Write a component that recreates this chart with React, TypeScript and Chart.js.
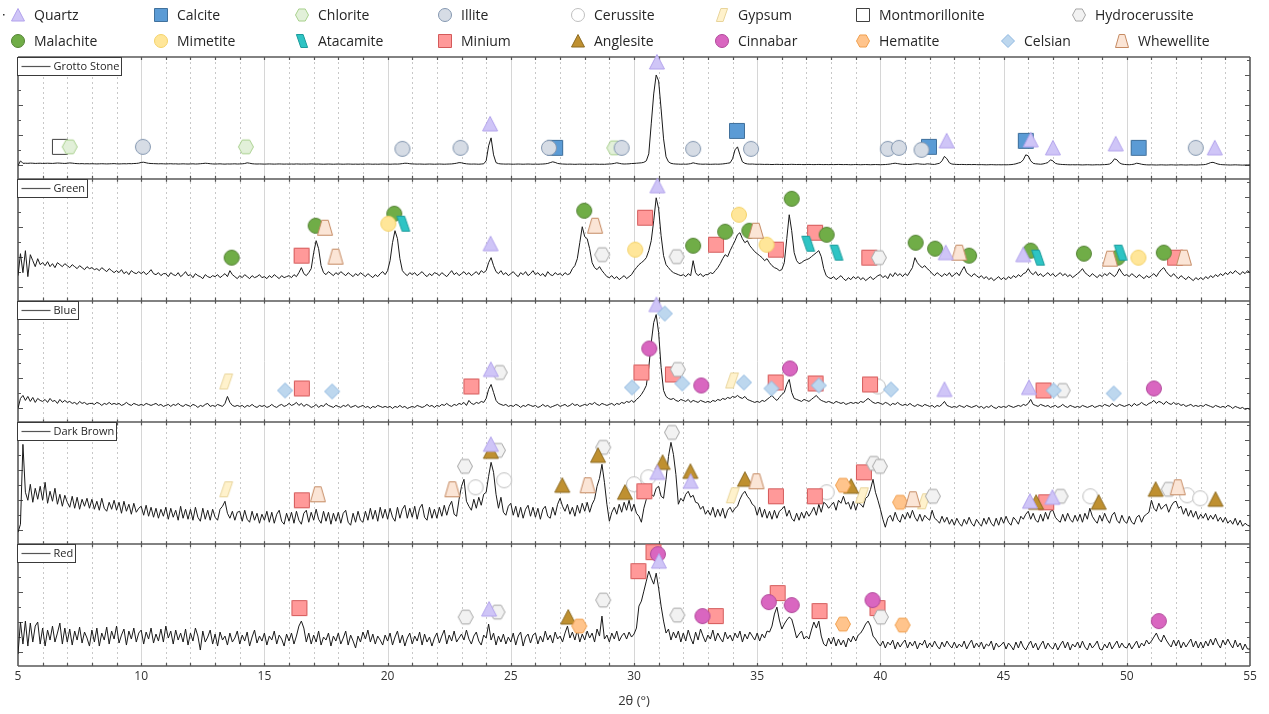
import React, { useEffect, useRef } from "react";
import { Chart, registerables } from "chart.js";

Chart.register(...registerables);

const FONT = '"Open Sans", "Noto Sans", "DejaVu Sans", sans-serif';
const PANEL = 122;

const panelNames = ["Grotto Stone", "Green", "Blue", "Dark Brown", "Red"];
const xTickLabels = [5, 10, 15, 20, 25, 30, 35, 40, 45, 50, 55];
const twoThetaStart = 5;
const twoThetaStep = 0.1;

// intensities (arbitrary units, 0..122 per panel), 2θ = 5.0 .. 55.0 step 0.1
const grottoStone = [
  13, 18, 15.5, 15.6, 15.5, 15.7, 15.6, 15.4, 15.5, 15.6,
  15.4, 15.5, 15.6, 15.5, 15.4, 15.6, 15.8, 15.7, 15.5, 15.4,
  15.6, 15.9, 15.7, 15.4, 15.2, 15.1, 15.2, 15.0, 15.1, 15.0,
  15.1, 15.0, 14.9, 15.0, 15.1, 15.0, 14.9, 15.0, 15.1, 15.2,
  15.0, 14.9, 15.0, 15.1, 15.0, 15.2, 15.1, 15.3, 15.4, 15.7,
  16.4, 16.6, 16.0, 15.5, 15.3, 15.2, 15.1, 15.0, 15.1, 15.0,
  14.9, 15.0, 15.1, 14.9, 15.0, 14.8, 14.9, 15.0, 14.9, 14.8,
  14.9, 15.0, 14.8, 14.9, 15.1, 15.3, 15.6, 15.4, 15.1, 14.9,
  14.8, 14.9, 15.0, 14.8, 14.7, 14.9, 14.8, 14.9, 15.0, 14.8,
  14.9, 15.0, 15.3, 16.0, 15.6, 15.1, 14.9, 14.8, 14.9, 14.8,
  14.7, 14.8, 14.9, 14.8, 14.7, 14.8, 14.9, 14.8, 14.7, 14.8,
  14.7, 14.8, 14.7, 14.9, 14.8, 14.7, 14.8, 14.7, 14.8, 14.9,
  14.8, 14.7, 14.8, 14.7, 14.6, 14.7, 14.8, 14.7, 14.6, 14.7,
  14.8, 14.7, 14.6, 14.7, 14.8, 14.7, 14.6, 14.7, 14.6, 14.7,
  14.6, 14.7, 14.8, 14.7, 14.6, 14.7, 14.6, 14.7, 14.8, 14.7,
  14.7, 14.6, 14.7, 14.8, 14.7, 14.9, 15.2, 15.6, 15.5, 15.1,
  14.9, 14.8, 14.7, 14.8, 14.7, 14.6, 14.7, 14.8, 14.7, 14.6,
  14.7, 14.8, 14.7, 14.6, 14.7, 14.8, 14.9, 15.2, 15.6, 16.2,
  16.0, 15.4, 15.0, 14.8, 14.7, 14.8, 14.7, 14.6, 14.8, 15.0,
  18, 33, 41, 24, 16.2, 15.2, 14.9, 14.8, 14.7, 14.8,
  14.7, 14.6, 14.7, 14.8, 14.7, 14.6, 14.7, 14.8, 14.7, 14.6,
  14.7, 14.6, 14.7, 14.8, 15.0, 15.4, 16.2, 17.0, 16.4, 15.4,
  15.0, 14.8, 14.7, 14.6, 14.7, 14.6, 14.5, 14.6, 14.7, 14.6,
  14.5, 14.6, 14.5, 14.6, 14.7, 14.6, 14.5, 14.6, 14.5, 14.7,
  14.8, 15.0, 15.4, 16.0, 15.5, 15.0, 14.8, 14.9, 15.0, 15.3,
  15.4, 15.6, 15.8, 16.0, 16.5, 18, 25, 55, 85, 104,
  98, 70, 40, 22, 17, 15.5, 15.0, 14.8, 14.7, 14.6,
  14.7, 14.6, 14.8, 15.2, 16.0, 15.4, 14.9, 14.7, 14.6, 14.7,
  14.6, 14.5, 14.6, 14.7, 14.6, 14.7, 14.9, 15.2, 15.6, 16,
  20, 29, 32, 24, 17, 15.5, 14.9, 14.7, 14.8, 14.6,
  14.5, 14.6, 14.5, 14.4, 14.5, 14.4, 14.3, 14.4, 14.5, 14.4,
  14.3, 14.4, 14.3, 14.4, 14.5, 14.4, 14.3, 14.4, 14.3, 14.2,
  14.3, 14.4, 14.3, 14.2, 14.3, 14.4, 14.3, 14.2, 14.3, 14.2,
  14.3, 14.2, 14.3, 14.4, 14.3, 14.2, 14.3, 14.2, 14.1, 14.2,
  14.3, 14.2, 14.1, 14.2, 14.3, 14.2, 14.1, 14.2, 14.3, 14.2,
  14.1, 14.2, 14.3, 14.5, 14.8, 15.3, 15.6, 15.2, 14.8, 14.5,
  14.4, 14.3, 14.4, 14.6, 14.9, 15.1, 14.8, 14.6, 14.5, 15.0,
  14.8, 14.5, 14.4, 15.0, 15.5, 18, 22.5, 20, 16, 14.8,
  14.5, 14.4, 14.3, 14.4, 14.3, 14.2, 14.3, 14.2, 14.3, 14.2,
  14.1, 14.2, 14.1, 14.0, 14.1, 14.2, 14.1, 14.0, 14.1, 14.0,
  14.1, 14.0, 14.1, 14.2, 14.5, 15, 15.8, 16.5, 19, 24,
  23, 18, 15.5, 15.0, 14.8, 14.6, 14.9, 15.5, 16.3, 19,
  18, 15.5, 14.8, 14.5, 14.3, 14.2, 14.1, 14.0, 14.1, 14.0,
  14.1, 14.0, 13.9, 14.0, 14.1, 14.0, 13.9, 14.0, 14.1, 14.0,
  14.1, 14.2, 14.4, 14.8, 16.5, 20, 19, 16, 14.8, 14.4,
  14.2, 14.1, 14.3, 14.7, 15.6, 15.2, 14.6, 14.2, 14.0, 13.9,
  14.0, 13.9, 13.8, 13.9, 14.0, 13.9, 13.8, 13.9, 14.0, 13.9,
  13.8, 13.9, 14.0, 13.9, 13.8, 13.9, 14.0, 13.9, 13.8, 13.9,
  14.0, 14.1, 14.4, 15.2, 16.2, 16.5, 15.6, 14.8, 14.3, 14.1,
  14.0, 13.9, 13.8, 13.9, 14.0, 13.9, 13.8, 13.7, 13.8, 13.9,
  13.8,
];

const green = [
  25, 47, 28, 50, 24, 46, 40, 34, 42, 36,
  38, 35, 39, 34, 37, 33, 38, 36, 34, 37,
  35, 33, 36, 34, 32, 35, 33, 31, 34, 32,
  33, 31, 32, 30, 33, 31, 29, 32, 30, 28,
  30, 28, 31, 27, 29, 26, 30, 28, 27, 29,
  27, 29, 26, 28, 31, 27, 26, 28, 25, 27,
  27, 24, 28, 26, 25, 28, 24, 26, 29, 25,
  26, 23, 27, 25, 24, 22, 26, 24, 23, 25,
  24, 26, 23, 25, 27, 24, 30, 26, 24, 22,
  25, 23, 26, 24, 22, 25, 23, 24, 26, 23,
  24, 22, 25, 23, 26, 24, 22, 25, 23, 24,
  25, 23, 26, 24, 28, 33, 27, 25, 28, 32,
  48, 60, 52, 35, 28, 26, 29, 27, 25, 28,
  26, 29, 27, 25, 28, 26, 24, 27, 25, 28,
  26, 24, 27, 25, 23, 26, 24, 27, 29, 26,
  30, 40, 58, 70, 62, 42, 30, 27, 25, 28,
  26, 28, 25, 27, 29, 26, 24, 27, 25, 28,
  27, 25, 28, 26, 24, 27, 30, 26, 28, 25,
  27, 29, 26, 28, 25, 27, 29, 26, 30, 28,
  30, 38, 43, 35, 29, 27, 30, 26, 28, 25,
  27, 29, 26, 24, 28, 26, 29, 25, 27, 30,
  26, 28, 25, 27, 24, 29, 26, 25, 28, 26,
  27, 25, 28, 26, 27, 32, 35, 42, 58, 74,
  64, 62, 52, 38, 33, 31, 34, 30, 27, 24,
  23, 25, 22, 24, 21, 23, 25, 22, 24, 26,
  30, 33, 36, 38, 40, 43, 50, 60, 80, 103,
  92, 65, 45, 36, 33, 30, 28, 27, 26, 25,
  26, 24, 27, 25, 40, 28, 25, 27, 24, 26,
  26, 28, 27, 30, 33, 37, 42, 46, 44, 50,
  55, 60, 66, 68, 62, 58, 60, 55, 52, 49,
  47, 45, 43, 40, 42, 38, 35, 33, 32, 30,
  31, 38, 62, 86, 70, 48, 40, 37, 38, 40,
  41, 42, 44, 46, 48, 50, 44, 32, 25, 23,
  22, 24, 21, 23, 25, 22, 20, 23, 21, 24,
  22, 24, 21, 23, 20, 22, 24, 21, 23, 25,
  26, 23, 25, 22, 27, 24, 28, 25, 27, 24,
  27, 25, 29, 33, 43, 38, 35, 33, 35, 32,
  30, 27, 25, 28, 26, 24, 27, 25, 28, 24,
  26, 28, 25, 30, 34, 28, 26, 24, 27, 25,
  23, 25, 22, 24, 21, 23, 20, 22, 24, 21,
  23, 21, 24, 22, 25, 23, 26, 24, 27, 28,
  32, 28, 26, 29, 25, 27, 24, 26, 28, 25,
  27, 24, 26, 28, 25, 27, 24, 26, 23, 25,
  27, 29, 32, 28, 26, 24, 27, 25, 23, 26,
  24, 27, 25, 28, 26, 24, 27, 32, 28, 25,
  26, 24, 27, 25, 23, 26, 24, 22, 25, 23,
  25, 27, 24, 28, 31, 33, 29, 26, 24, 27,
  24, 22, 25, 23, 21, 24, 22, 20, 23, 21,
  23, 21, 24, 22, 25, 23, 26, 24, 27, 25,
  28, 26, 29, 27, 30, 28, 26, 29, 27, 30,
  28,
];

const blue = [
  14, 24, 27, 22, 26, 21, 25, 20, 24, 22,
  21, 23, 20, 24, 21, 22, 19, 23, 20, 22,
  20, 21, 19, 20, 18, 21, 19, 20, 18, 19,
  19, 18, 20, 19, 17, 19, 18, 20, 18, 19,
  18, 19, 17, 18, 20, 18, 17, 19, 18, 17,
  18, 17, 19, 18, 17, 18, 19, 17, 18, 16,
  17, 18, 16, 18, 17, 19, 17, 16, 18, 17,
  16, 18, 17, 15, 17, 16, 18, 19, 16, 17,
  16, 18, 17, 16, 19, 26, 20, 17, 16, 17,
  16, 17, 15, 17, 16, 18, 16, 15, 17, 16,
  17, 15, 16, 18, 16, 15, 17, 18, 16, 17,
  19, 17, 18, 20, 17, 19, 16, 18, 17, 15,
  16, 18, 15, 17, 16, 19, 17, 16, 15, 17,
  16, 15, 17, 16, 18, 15, 16, 17, 15, 16,
  17, 15, 16, 14, 16, 15, 17, 16, 15, 16,
  15, 16, 14, 16, 15, 17, 15, 16, 14, 15,
  16, 15, 17, 16, 15, 16, 18, 16, 17, 15,
  17, 16, 18, 17, 19, 17, 16, 18, 17, 19,
  18, 20, 17, 22, 19, 18, 20, 19, 21, 20,
  24, 33, 38, 30, 22, 19, 18, 17, 18, 16,
  17, 16, 18, 17, 15, 17, 16, 18, 17, 16,
  17, 15, 16, 18, 16, 17, 15, 16, 17, 18,
  16, 17, 18, 16, 17, 19, 17, 18, 16, 17,
  18, 17, 19, 18, 20, 18, 17, 19, 18, 17,
  18, 19, 17, 19, 18, 20, 19, 21, 20, 22,
  20, 23, 25, 28, 32, 37, 55, 80, 100, 108,
  90, 55, 32, 26, 24, 23, 24, 22, 21, 23,
  22, 21, 23, 20, 22, 21, 20, 22, 21, 20,
  21, 20, 22, 21, 23, 22, 24, 23, 25, 24,
  26, 25, 27, 25, 24, 26, 23, 22, 21, 20,
  21, 20, 22, 21, 23, 25, 27, 24, 22, 25,
  28, 30, 38, 43, 30, 24, 23, 22, 21, 23,
  22, 21, 23, 25, 27, 24, 22, 21, 20, 21,
  20, 19, 21, 20, 19, 20, 18, 19, 20, 19,
  20, 19, 21, 20, 22, 24, 22, 20, 19, 20,
  19, 18, 20, 19, 17, 19, 18, 20, 18, 17,
  18, 17, 19, 17, 16, 18, 17, 16, 18, 17,
  16, 17, 15, 17, 16, 18, 21, 17, 16, 15,
  16, 15, 17, 16, 15, 17, 16, 15, 16, 17,
  15, 16, 14, 16, 15, 17, 15, 14, 16, 15,
  16, 15, 17, 16, 15, 16, 17, 16, 18, 17,
  19, 23, 18, 17, 16, 18, 17, 16, 17, 15,
  16, 17, 15, 16, 18, 16, 15, 17, 16, 15,
  16, 15, 17, 16, 15, 16, 17, 15, 16, 17,
  16, 18, 17, 16, 19, 17, 16, 18, 17, 16,
  17, 18, 16, 19, 17, 18, 20, 18, 17, 19,
  20, 22, 19, 21, 20, 18, 21, 19, 18, 20,
  18, 19, 17, 18, 16, 17, 18, 16, 17, 16,
  17, 16, 18, 17, 16, 15, 17, 16, 15, 16,
  15, 17, 16, 14, 16, 15, 14, 15, 13, 14,
  13,
];

const darkBrown = [
  12, 20, 100, 52, 44, 60, 42, 56, 45, 58,
  44, 62, 41, 53, 43, 56, 40, 50, 38, 49,
  42, 37, 48, 36, 47, 35, 45, 38, 46, 36,
  45, 35, 43, 34, 46, 36, 33, 42, 35, 44,
  34, 42, 31, 43, 33, 40, 30, 41, 32, 36,
  38, 29, 39, 28, 37, 27, 36, 26, 35, 28,
  37, 25, 36, 27, 34, 24, 38, 26, 35, 25,
  35, 24, 37, 27, 23, 36, 25, 34, 24, 35,
  27, 24, 35, 38, 43, 31, 26, 33, 24, 32,
  33, 23, 34, 25, 22, 33, 24, 31, 21, 30,
  24, 33, 22, 32, 21, 30, 34, 23, 20, 31,
  23, 32, 21, 33, 24, 20, 31, 34, 22, 32,
  24, 35, 25, 21, 33, 23, 32, 20, 31, 23,
  32, 21, 31, 34, 22, 19, 31, 22, 33, 24,
  22, 33, 24, 36, 25, 34, 23, 37, 26, 35,
  25, 36, 27, 23, 37, 26, 35, 39, 26, 36,
  27, 38, 25, 36, 40, 27, 24, 37, 26, 35,
  26, 37, 28, 39, 29, 38, 43, 30, 28, 45,
  58, 65, 43, 38, 34, 45, 36, 47, 39, 50,
  52, 68, 82, 72, 50, 36, 47, 32, 29, 38,
  41, 29, 38, 27, 37, 26, 35, 39, 28, 37,
  27, 36, 25, 35, 38, 28, 26, 37, 29, 40,
  46, 38, 33, 40, 30, 37, 28, 39, 31, 41,
  33, 42, 32, 40, 45, 58, 66, 80, 62, 40,
  23, 32, 37, 30, 40, 32, 42, 34, 44, 33,
  40, 31, 28, 22, 36, 45, 55, 50, 48, 56,
  58, 48, 46, 65, 88, 102, 90, 70, 40, 46,
  43, 50, 53, 47, 49, 42, 41, 35, 38, 30,
  34, 29, 37, 27, 35, 28, 36, 26, 34, 37,
  32, 36, 38, 45, 50, 53, 48, 45, 40, 38,
  29, 37, 27, 35, 26, 33, 25, 34, 26, 33,
  35, 38, 28, 34, 26, 23, 31, 24, 32, 26,
  33, 28, 32, 37, 29, 40, 32, 42, 40, 36,
  39, 42, 34, 44, 41, 48, 40, 42, 35, 43,
  34, 42, 40, 37, 46, 48, 55, 65, 52, 44,
  35, 25, 17, 26, 29, 23, 32, 25, 22, 30,
  25, 32, 26, 34, 27, 23, 30, 23, 29, 26,
  24, 34, 26, 24, 21, 28, 22, 27, 20, 25,
  19, 26, 21, 18, 25, 20, 27, 21, 18, 25,
  21, 18, 26, 20, 27, 21, 18, 26, 19, 27,
  21, 28, 22, 19, 27, 24, 20, 28, 25, 30,
  33, 25, 31, 24, 22, 30, 23, 32, 25, 33,
  34, 27, 24, 22, 30, 23, 31, 25, 22, 29,
  23, 30, 22, 31, 25, 36, 28, 24, 21, 29,
  23, 31, 25, 21, 29, 32, 24, 21, 29, 23,
  21, 28, 22, 20, 27, 29, 22, 28, 30, 32,
  44, 36, 33, 41, 35, 38, 40, 32, 38, 42,
  43, 36, 38, 30, 36, 28, 34, 27, 33, 25,
  30, 26, 31, 24, 29, 25, 30, 23, 27, 22,
  27, 21, 24, 20, 26, 19, 24, 18, 21, 19,
  18,
];

const red = [
  12, 44, 22, 45, 20, 43, 24, 40, 44, 22,
  38, 20, 36, 26, 40, 24, 33, 43, 22, 38,
  24, 37, 21, 35, 26, 39, 23, 34, 28, 20,
  36, 24, 38, 20, 33, 26, 39, 22, 35, 27,
  40, 23, 31, 37, 21, 35, 27, 38, 24, 33,
  36, 22, 34, 27, 38, 23, 32, 25, 37, 24,
  40, 28, 35, 22, 36, 26, 33, 24, 37, 21,
  33, 25, 38, 30, 16, 35, 24, 29, 36, 22,
  32, 20, 34, 26, 30, 21, 33, 24, 28, 35,
  22, 31, 25, 34, 20, 29, 36, 23, 30, 25,
  33, 21, 30, 26, 35, 22, 31, 27, 20, 32,
  25, 33, 22, 30, 40, 45, 38, 24, 33, 22,
  31, 24, 35, 21, 29, 26, 33, 20, 30, 25,
  33, 22, 28, 35, 21, 31, 25, 18, 30, 24,
  34, 27, 36, 24, 32, 22, 30, 26, 21, 31,
  25, 33, 21, 29, 35, 23, 31, 20, 28, 33,
  22, 30, 25, 34, 21, 32, 24, 29, 20, 28,
  33, 23, 30, 36, 22, 31, 25, 35, 24, 28,
  32, 26, 36, 27, 22, 30, 34, 25, 21, 31,
  28, 42, 26, 33, 21, 30, 24, 32, 22, 29,
  24, 33, 21, 30, 34, 20, 29, 32, 23, 31,
  33, 22, 30, 24, 35, 26, 31, 23, 34, 27,
  30, 24, 33, 40, 28, 34, 26, 36, 24, 32,
  26, 35, 28, 33, 24, 37, 30, 50, 27, 31,
  24, 33, 27, 35, 25, 30, 33, 27, 34, 29,
  32, 38, 60, 65, 75, 85, 95, 88, 82, 93,
  78, 60, 45, 33, 37, 26, 34, 28, 35, 24,
  33, 25, 36, 28, 22, 34, 26, 37, 30, 24,
  31, 27, 36, 25, 33, 28, 24, 34, 27, 31,
  25, 33, 28, 35, 24, 32, 27, 34, 30, 26,
  33, 25, 32, 28, 35, 34, 40, 52, 59, 46,
  37, 42, 46, 49, 47, 38, 28, 32, 35, 27,
  30, 27, 36, 44, 38, 45, 30, 22, 20, 28,
  22, 29, 20, 27, 21, 26, 19, 28, 24, 30,
  25, 31, 33, 37, 42, 45, 40, 30, 27, 23,
  20, 25, 18, 24, 21, 26, 17, 24, 19, 23,
  26, 18, 24, 20, 25, 17, 23, 21, 26, 18,
  23, 19, 25, 20, 17, 24, 19, 25, 21, 18,
  24, 18, 22, 19, 25, 17, 22, 26, 18, 23,
  19, 24, 17, 22, 20, 25, 16, 23, 19, 21,
  24, 17, 23, 20, 16, 24, 18, 25, 19, 16,
  21, 25, 18, 23, 16, 21, 25, 17, 23, 19,
  17, 23, 16, 21, 25, 18, 24, 16, 22, 19,
  24, 18, 25, 19, 16, 23, 18, 21, 25, 17,
  16, 22, 18, 24, 17, 21, 25, 18, 23, 19,
  18, 23, 17, 21, 25, 18, 23, 20, 26, 22,
  25, 29, 33, 27, 24, 31, 26, 22, 19, 26,
  20, 26, 18, 24, 19, 23, 27, 19, 25, 18,
  24, 18, 25, 20, 27, 21, 28, 22, 18, 26,
  21, 27, 22, 18, 26, 19, 23, 16, 22, 17,
  17,
];

// phase identification markers: [mineral, 2θ, intensity level]
type Mark = [string, number, number];
const grottoMarkers: Mark[] = [
  ["Montmorillonite", 6.7, 32], ["Chlorite", 7.1, 32], ["Illite", 10.07, 32], ["Chlorite", 14.25, 32],
  ["Illite", 20.6, 30], ["Illite", 22.96, 31], ["Quartz", 24.16, 55], ["Calcite", 26.8, 31],
  ["Illite", 26.55, 31], ["Chlorite", 29.2, 31], ["Illite", 29.5, 31], ["Quartz", 30.93, 117],
  ["Illite", 32.4, 30], ["Calcite", 34.18, 48], ["Illite", 34.75, 30], ["Illite", 40.3, 30],
  ["Illite", 40.75, 31], ["Calcite", 41.97, 32], ["Illite", 41.67, 29], ["Quartz", 42.69, 38],
  ["Calcite", 45.9, 38], ["Quartz", 46.1, 39], ["Quartz", 47.0, 31], ["Quartz", 49.55, 35],
  ["Calcite", 50.48, 31], ["Illite", 52.8, 31], ["Quartz", 53.57, 31],
];
const greenMarkers: Mark[] = [
  ["Malachite", 13.67, 43], ["Minium", 16.51, 45], ["Malachite", 17.08, 75], ["Whewellite", 17.46, 73],
  ["Whewellite", 17.89, 44], ["Malachite", 20.27, 87], ["Mimetite", 20.03, 77], ["Atacamite", 20.64, 77],
  ["Quartz", 24.18, 57], ["Malachite", 27.98, 90], ["Whewellite", 28.42, 75], ["Hydrocerussite", 28.71, 46],
  ["Mimetite", 30.05, 51], ["Minium", 30.45, 83], ["Quartz", 30.95, 115], ["Hydrocerussite", 31.73, 44],
  ["Malachite", 32.4, 55], ["Minium", 33.33, 56], ["Malachite", 33.7, 69], ["Mimetite", 34.26, 86],
  ["Malachite", 34.68, 70], ["Whewellite", 34.95, 70], ["Mimetite", 35.38, 56], ["Minium", 35.76, 51],
  ["Malachite", 36.4, 102], ["Atacamite", 37.07, 57], ["Minium", 37.35, 68], ["Malachite", 37.82, 66],
  ["Atacamite", 38.22, 48], ["Minium", 39.55, 43], ["Hydrocerussite", 39.94, 43], ["Malachite", 41.43, 58],
  ["Malachite", 42.22, 52], ["Quartz", 42.65, 48], ["Whewellite", 43.2, 48], ["Malachite", 43.6, 45],
  ["Quartz", 45.8, 46], ["Malachite", 46.1, 50], ["Atacamite", 46.4, 43], ["Malachite", 48.26, 47],
  ["Whewellite", 49.32, 42], ["Malachite", 49.63, 43], ["Atacamite", 49.75, 48], ["Mimetite", 50.47, 43],
  ["Malachite", 51.5, 48], ["Minium", 51.96, 43], ["Whewellite", 52.32, 43],
];
const blueMarkers: Mark[] = [
  ["Gypsum", 13.45, 41], ["Celsian", 15.84, 32], ["Minium", 16.52, 34], ["Celsian", 17.75, 31],
  ["Minium", 23.4, 36], ["Quartz", 24.19, 53], ["Hydrocerussite", 24.55, 50], ["Celsian", 29.92, 35],
  ["Minium", 30.3, 50], ["Cinnabar", 30.62, 74], ["Quartz", 30.91, 118], ["Celsian", 31.25, 109],
  ["Minium", 31.58, 48], ["Hydrocerussite", 31.78, 53], ["Celsian", 31.96, 39], ["Cinnabar", 32.73, 37],
  ["Gypsum", 33.98, 42], ["Celsian", 34.46, 40], ["Celsian", 35.58, 34], ["Minium", 35.75, 40],
  ["Cinnabar", 36.33, 54], ["Minium", 37.37, 39], ["Celsian", 37.5, 37], ["Cerussite", 39.9, 36],
  ["Minium", 39.58, 38], ["Celsian", 40.43, 33], ["Quartz", 42.6, 33], ["Quartz", 46.03, 35],
  ["Minium", 46.62, 32], ["Celsian", 47.03, 32], ["Hydrocerussite", 47.4, 32], ["Celsian", 49.47, 29],
  ["Cinnabar", 51.1, 34],
];
const darkBrownMarkers: Mark[] = [
  ["Gypsum", 13.45, 55], ["Minium", 16.52, 44], ["Whewellite", 17.17, 50], ["Whewellite", 22.63, 55],
  ["Hydrocerussite", 23.14, 78], ["Cerussite", 23.57, 57], ["Anglesite", 24.19, 93], ["Quartz", 24.19, 100],
  ["Hydrocerussite", 24.48, 94], ["Cerussite", 24.73, 64], ["Anglesite", 27.09, 59], ["Whewellite", 28.12, 59],
  ["Anglesite", 28.54, 89], ["Hydrocerussite", 28.75, 97], ["Anglesite", 29.63, 52], ["Cerussite", 30.0, 60],
  ["Minium", 30.42, 53], ["Cerussite", 30.58, 67], ["Quartz", 30.95, 72], ["Anglesite", 31.16, 82],
  ["Hydrocerussite", 31.54, 112], ["Quartz", 32.3, 63], ["Anglesite", 32.29, 73], ["Gypsum", 34.01, 49],
  ["Anglesite", 34.5, 65], ["Whewellite", 34.97, 63], ["Minium", 35.76, 48], ["Minium", 37.34, 48],
  ["Cerussite", 37.82, 52], ["Hematite", 38.48, 59], ["Anglesite", 38.81, 58], ["Gypsum", 39.25, 49],
  ["Minium", 39.33, 72], ["Hydrocerussite", 39.73, 81], ["Hydrocerussite", 39.98, 78], ["Hematite", 40.8, 42],
  ["Whewellite", 41.32, 45], ["Gypsum", 41.77, 43], ["Hydrocerussite", 42.13, 48], ["Quartz", 46.07, 43],
  ["Anglesite", 46.32, 42], ["Minium", 46.73, 42], ["Quartz", 46.98, 47], ["Hydrocerussite", 47.31, 48],
  ["Cerussite", 48.52, 48], ["Anglesite", 48.86, 42], ["Anglesite", 51.17, 55], ["Hydrocerussite", 51.7, 55],
  ["Whewellite", 52.07, 57], ["Cerussite", 52.45, 49], ["Cerussite", 52.98, 46], ["Anglesite", 53.6, 45],
];
const redMarkers: Mark[] = [
  ["Minium", 16.42, 58], ["Hydrocerussite", 23.17, 49], ["Quartz", 24.12, 57], ["Hydrocerussite", 24.46, 54],
  ["Anglesite", 27.33, 49], ["Hematite", 27.78, 40], ["Hydrocerussite", 28.75, 66], ["Minium", 30.18, 95],
  ["Minium", 30.79, 114], ["Cinnabar", 30.97, 112], ["Quartz", 31.01, 105], ["Hydrocerussite", 31.76, 51],
  ["Cinnabar", 32.78, 50], ["Minium", 33.32, 50], ["Cinnabar", 35.47, 64], ["Minium", 35.83, 73],
  ["Cinnabar", 36.4, 61], ["Minium", 37.53, 55], ["Hematite", 38.48, 42], ["Cinnabar", 39.68, 66],
  ["Minium", 39.88, 58], ["Hydrocerussite", 40.02, 49], ["Hematite", 40.9, 41], ["Cinnabar", 51.3, 45],
];

const spectra = [grottoStone, green, blue, darkBrown, red];
const markerSets = [grottoMarkers, greenMarkers, blueMarkers, darkBrownMarkers, redMarkers];

// styling
type Style = { shape: string; fill: string; stroke: string };
const mineralStyles: Record<string, Style> = {
  Quartz: { shape: "triangle", fill: "#CFC5F7", stroke: "#B2A2EC" },
  Calcite: { shape: "square", fill: "#5B9BD5", stroke: "#41719C" },
  Chlorite: { shape: "hexagon", fill: "#E2F0D9", stroke: "#A9D18E" },
  Illite: { shape: "circle", fill: "#D6DCE5", stroke: "#8497B0" },
  Cerussite: { shape: "circle", fill: "#FFFFFF", stroke: "#BFBFBF" },
  Gypsum: { shape: "paraRight", fill: "#FFF2CC", stroke: "#E8D49A" },
  Montmorillonite: { shape: "square", fill: "#FFFFFF", stroke: "#404040" },
  Hydrocerussite: { shape: "hexagon", fill: "#F2F2F2", stroke: "#A6A6A6" },
  Malachite: { shape: "circle", fill: "#70AD47", stroke: "#548235" },
  Mimetite: { shape: "circle", fill: "#FFE699", stroke: "#F4D26A" },
  Atacamite: { shape: "paraLeft", fill: "#2EC4C4", stroke: "#1C9C9C" },
  Minium: { shape: "square", fill: "#FF9999", stroke: "#D45A5A" },
  Anglesite: { shape: "triangle", fill: "#BF9030", stroke: "#8C6A20" },
  Cinnabar: { shape: "circle", fill: "#D966C0", stroke: "#B0489A" },
  Hematite: { shape: "hexagon", fill: "#FFC48C", stroke: "#F0A050" },
  Celsian: { shape: "diamond", fill: "#BDD7EE", stroke: "#8FB8E0" },
  Whewellite: { shape: "trapezoid", fill: "#FBE5D6", stroke: "#C58A62" },
};
const drawOrder = [
  "Montmorillonite", "Calcite", "Chlorite", "Illite", "Cerussite", "Gypsum", "Minium", "Hydrocerussite",
  "Malachite", "Mimetite", "Atacamite", "Anglesite", "Cinnabar", "Hematite", "Whewellite", "Quartz", "Celsian",
];
const legendLayout: [string, number, number][] = [
  ["Quartz", 18, 15], ["Calcite", 161, 15], ["Chlorite", 302, 15], ["Illite", 445, 15],
  ["Cerussite", 578, 15], ["Gypsum", 722, 15], ["Montmorillonite", 863, 15], ["Hydrocerussite", 1079, 15],
  ["Malachite", 18, 41], ["Mimetite", 161, 41], ["Atacamite", 302, 41], ["Minium", 445, 41],
  ["Anglesite", 578, 41], ["Cinnabar", 722, 41], ["Hematite", 863, 41], ["Celsian", 1008, 41],
  ["Whewellite", 1122, 41],
];

function makeIcon(st: Style, s: number): HTMLCanvasElement {
  const pad = 2;
  const c = document.createElement("canvas");
  c.width = s + pad * 2;
  c.height = s + pad * 2;
  const ctx = c.getContext("2d")!;
  ctx.translate(pad, pad);
  ctx.beginPath();
  switch (st.shape) {
    case "circle":
      ctx.arc(s / 2, s / 2, s / 2 - 0.5, 0, Math.PI * 2);
      break;
    case "square":
      ctx.rect(0.5, 0.5, s - 1, s - 1);
      break;
    case "triangle":
      ctx.moveTo(s / 2, 0.5);
      ctx.lineTo(s - 0.5, s - 1);
      ctx.lineTo(0.5, s - 1);
      ctx.closePath();
      break;
    case "hexagon": {
      const h = s * 0.86;
      const y0 = (s - h) / 2;
      ctx.moveTo(0.5, s / 2);
      ctx.lineTo(s * 0.27, y0);
      ctx.lineTo(s * 0.73, y0);
      ctx.lineTo(s - 0.5, s / 2);
      ctx.lineTo(s * 0.73, y0 + h);
      ctx.lineTo(s * 0.27, y0 + h);
      ctx.closePath();
      break;
    }
    case "paraRight":
      ctx.moveTo(s * 0.42, 0.5);
      ctx.lineTo(s * 0.9, 0.5);
      ctx.lineTo(s * 0.58, s - 0.5);
      ctx.lineTo(s * 0.1, s - 0.5);
      ctx.closePath();
      break;
    case "paraLeft":
      ctx.moveTo(s * 0.1, 0.5);
      ctx.lineTo(s * 0.58, 0.5);
      ctx.lineTo(s * 0.9, s - 0.5);
      ctx.lineTo(s * 0.42, s - 0.5);
      ctx.closePath();
      break;
    case "diamond":
      ctx.moveTo(s / 2, 0.5);
      ctx.lineTo(s - 0.5, s / 2);
      ctx.lineTo(s / 2, s - 0.5);
      ctx.lineTo(0.5, s / 2);
      ctx.closePath();
      break;
    case "trapezoid":
      ctx.moveTo(s * 0.3, 0.5);
      ctx.lineTo(s * 0.7, 0.5);
      ctx.lineTo(s - 0.5, s - 0.5);
      ctx.lineTo(0.5, s - 0.5);
      ctx.closePath();
      break;
  }
  ctx.fillStyle = st.fill;
  ctx.fill();
  ctx.lineWidth = 1;
  ctx.strokeStyle = st.stroke;
  ctx.stroke();
  return c;
}

function makeFramePlugin(legendIcons: Record<string, HTMLCanvasElement>) {
  return {
    id: "xrdFrame",
    beforeDatasetsDraw(chart: any) {
      const { ctx, chartArea: a, scales } = chart;
      const xs = scales.x;
      const ys = scales.y;
      ctx.save();
      for (let d = 6; d < 55; d++) {
        const px = Math.round(xs.getPixelForValue(d)) + 0.5;
        ctx.beginPath();
        if (d % 5 === 0) {
          ctx.setLineDash([]);
          ctx.strokeStyle = "#d6d6d6";
        } else {
          ctx.setLineDash([2, 3]);
          ctx.strokeStyle = "#c8c8c8";
        }
        ctx.lineWidth = 1;
        ctx.moveTo(px, a.top);
        ctx.lineTo(px, a.bottom);
        ctx.stroke();
      }
      ctx.setLineDash([]);
      ctx.strokeStyle = "#555";
      ctx.lineWidth = 1.2;
      for (let p = 0; p <= 5; p++) {
        const py = ys.getPixelForValue(p * PANEL);
        for (let d = 6; d < 55; d++) {
          const px = Math.round(xs.getPixelForValue(d)) + 0.5;
          ctx.beginPath();
          ctx.moveTo(px, p === 5 ? py : py - 3);
          ctx.lineTo(px, p === 0 ? py : py + 3);
          ctx.stroke();
        }
        if (p < 5) {
          for (let k = 0; k < 8; k++) {
            const ty = Math.round(ys.getPixelForValue(p * PANEL + 14 + 15 * k)) + 0.5;
            const len = k % 2 === 0 ? 5 : 3;
            ctx.beginPath();
            ctx.moveTo(a.left, ty);
            ctx.lineTo(a.left + len, ty);
            ctx.moveTo(a.right, ty);
            ctx.lineTo(a.right - len, ty);
            ctx.stroke();
          }
        }
      }
      ctx.strokeStyle = "#595959";
      ctx.lineWidth = 1.6;
      for (let p = 0; p <= 5; p++) {
        const py = Math.round(ys.getPixelForValue(p * PANEL));
        ctx.beginPath();
        ctx.moveTo(a.left, py);
        ctx.lineTo(a.right, py);
        ctx.stroke();
      }
      ctx.beginPath();
      ctx.moveTo(a.left, a.top);
      ctx.lineTo(a.left, a.bottom);
      ctx.moveTo(a.right, a.top);
      ctx.lineTo(a.right, a.bottom);
      ctx.stroke();
      ctx.restore();
    },
    afterDatasetsDraw(chart: any) {
      const { ctx, chartArea: a, scales } = chart;
      const ys = scales.y;
      ctx.save();
      ctx.font = `11px ${FONT}`;
      ctx.textBaseline = "middle";
      panelNames.forEach((name, p) => {
        const top = Math.round(ys.getPixelForValue((5 - p) * PANEL)) + 0.5;
        const left = Math.round(a.left) - 0.5;
        const w = Math.round(36 + ctx.measureText(name).width + 2);
        const h = 18;
        ctx.fillStyle = "#fff";
        ctx.fillRect(left, top, w, h);
        ctx.strokeStyle = "#3a3a3a";
        ctx.lineWidth = 1;
        ctx.strokeRect(left, top, w, h);
        ctx.strokeStyle = "#555";
        ctx.lineWidth = 1.2;
        ctx.beginPath();
        ctx.moveTo(left + 4, top + h / 2);
        ctx.lineTo(left + 33, top + h / 2);
        ctx.stroke();
        ctx.fillStyle = "#262626";
        ctx.fillText(name, left + 36, top + h / 2 + 0.5);
      });
      ctx.font = `14px ${FONT}`;
      legendLayout.forEach(([name, x, y]) => {
        const icon = legendIcons[name];
        ctx.drawImage(icon, Math.round(x - icon.width / 2), Math.round(y - icon.height / 2));
        ctx.fillStyle = "#262626";
        ctx.fillText(name, x + 16, y + 1);
      });
      ctx.fillStyle = "#333";
      ctx.fillRect(3, 14, 1.5, 1.5);
      ctx.restore();
    },
  };
}

export default function App() {
  const ref = useRef<HTMLCanvasElement>(null);
  useEffect(() => {
    const canvas = ref.current!;
    const plotIcons: Record<string, HTMLCanvasElement> = {};
    const legendIcons: Record<string, HTMLCanvasElement> = {};
    Object.entries(mineralStyles).forEach(([name, st]) => {
      plotIcons[name] = makeIcon(st, 16);
      legendIcons[name] = makeIcon(st, 14);
    });
    const datasets: any[] = [];
    spectra.forEach((arr, p) => {
      const offset = (4 - p) * PANEL;
      datasets.push({
        label: panelNames[p],
        data: arr.map((v, i) => ({ x: twoThetaStart + i * twoThetaStep, y: offset + v })),
        showLine: true,
        borderColor: "#1a1a1a",
        borderWidth: 1,
        pointRadius: 0,
        tension: 0,
        order: 100,
      });
    });
    drawOrder.forEach((name, k) => {
      const pts: { x: number; y: number }[] = [];
      markerSets.forEach((set, p) => {
        set.forEach(([n, x, h]) => {
          if (n === name) pts.push({ x, y: (4 - p) * PANEL + h });
        });
      });
      datasets.push({
        label: name,
        data: pts,
        showLine: false,
        pointStyle: plotIcons[name],
        pointRadius: 8,
        clip: false,
        order: 60 - k,
      });
    });
    const chart = new Chart(canvas, {
      type: "scatter",
      data: { datasets },
      options: {
        animation: false,
        responsive: false,
        events: [],
        layout: { padding: { left: 18, right: 19, top: 57, bottom: 5 } },
        plugins: { legend: { display: false }, tooltip: { enabled: false } },
        scales: {
          x: {
            type: "linear",
            min: 5,
            max: 55,
            afterBuildTicks: (s: any) => {
              s.ticks = xTickLabels.map((v) => ({ value: v }));
            },
            grid: { display: false, drawTicks: false },
            border: { display: false },
            ticks: { color: "#333", font: { family: FONT, size: 12 }, padding: 3, maxRotation: 0, autoSkip: false },
            title: {
              display: true,
              text: "2θ (°)",
              color: "#333",
              font: { family: FONT, size: 13 },
              padding: { top: 7, bottom: 0 },
            },
          },
          y: { type: "linear", display: false, min: 0, max: PANEL * 5 },
        },
      } as any,
      plugins: [makeFramePlugin(legendIcons)],
    });
    return () => chart.destroy();
  }, []);
  return (
    <div style={{ position: "fixed", left: 0, top: 0, width: 1269, height: 714, background: "#fff" }}>
      <canvas ref={ref} width={1269} height={714} style={{ width: 1269, height: 714, display: "block" }} />
    </div>
  );
}
